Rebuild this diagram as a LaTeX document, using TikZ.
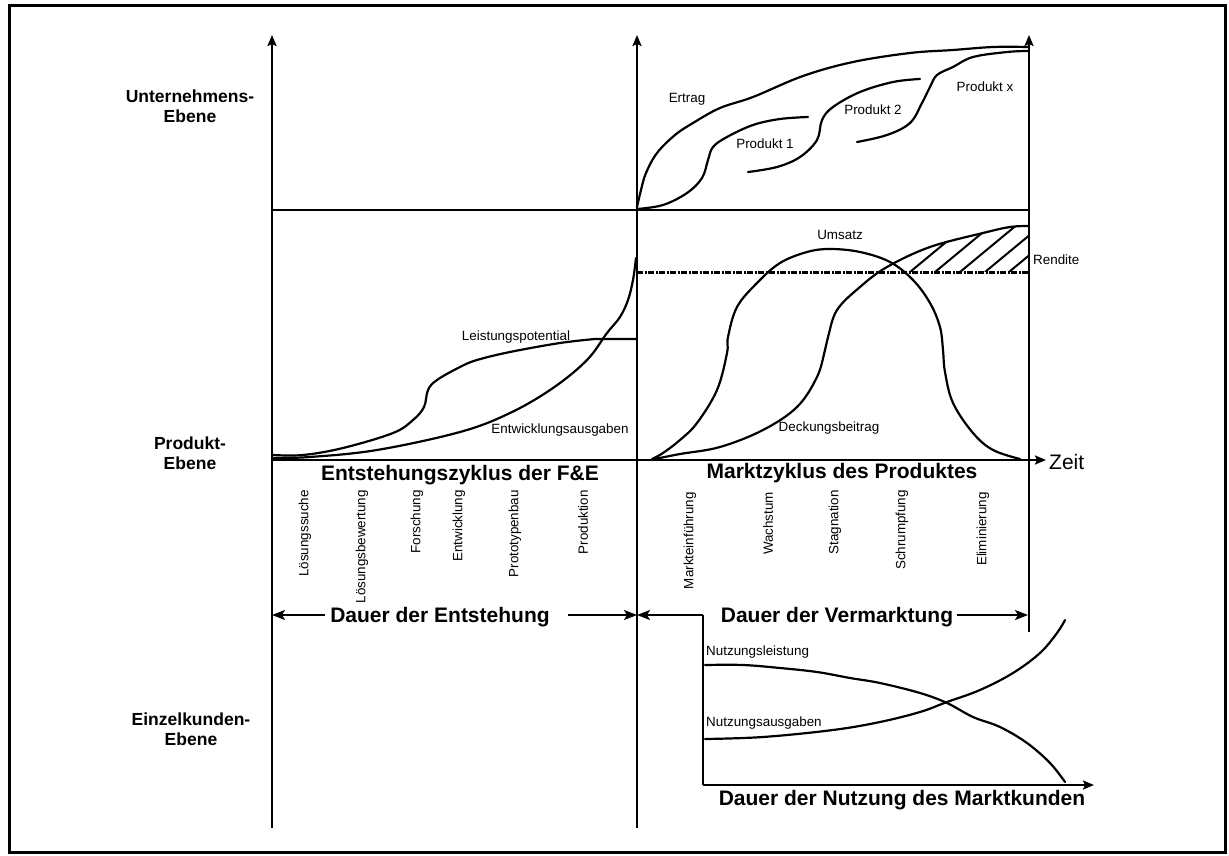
\documentclass[tikz,border=0pt]{standalone}
\usepackage{fontspec}
\setmainfont{Liberation Sans}
\usetikzlibrary{arrows.meta}

\tikzset{
  frame/.style={line width=3pt},
  axis/.style={line width=2.1pt},
  axisarrow/.style={line width=2.1pt, -{Stealth[length=11pt,width=9pt,inset=2pt]}},
  span/.style={line width=1.8pt, -{Stealth[length=13pt,width=10pt,inset=3pt]}},
  sep/.style={line width=1.8pt},
  curve/.style={line width=2.2pt, line join=round, line cap=round},
  limit/.style={line width=3pt, dash pattern=on 6pt off 1.5pt on 2pt off 1.5pt},
  hatch/.style={line width=2pt},
  lbl/.style={font=\fontsize{13.4}{16}\selectfont, inner sep=0pt},
  phase/.style={lbl, rotate=90, anchor=east},
  ttl/.style={font=\bfseries\fontsize{21}{25}\selectfont, inner sep=0pt},
  lvl/.style={font=\bfseries\fontsize{17.5}{20}\selectfont, align=center, inner sep=0pt},
}

\begin{document}
\begin{tikzpicture}[x=1pt,y=-1pt]
\useasboundingbox (0,0) rectangle (1229,856);
\draw[frame] (9.5,6) rectangle (1225.5,852);

% axes and level boundaries
\coordinate (lB) at (272,828);   \coordinate (lT) at (272,35);
\coordinate (mB) at (637,828);   \coordinate (mT) at (637,35);
\coordinate (rB) at (1029,632);  \coordinate (rT) at (1029,35);
\coordinate (sepL) at (272,210); \coordinate (sepR) at (1029,210);
\coordinate (tO) at (272,460);   \coordinate (tE) at (1046,460);
\coordinate (limL) at (637,272); \coordinate (limR) at (1029,272);
\coordinate (vL) at (703,615);   \coordinate (uO) at (703,785);
\coordinate (uE) at (1094,785);
\coordinate (eL) at (272,615);   \coordinate (eR) at (637,615);
\coordinate (vR) at (1028,615);

\draw[axisarrow] (lB) -- (lT);
\draw[axisarrow] (mB) -- (mT);
\draw[axisarrow] (rB) -- (rT);
\draw[sep] (sepL) -- (sepR);
\draw[axisarrow] (tO) -- (tE);
\draw[limit] (limL) -- (limR);

% level names
\node[lvl] (lu) at (190,106) {Unternehmens-\\Ebene};
\node[lvl] (lp) at (190,453) {Produkt-\\Ebene};
\node[lvl] (le) at (191,729) {Einzelkunden-\\Ebene};

% company level: yield and products
\draw[curve] plot[smooth, tension=0.6] coordinates {(637,207) (641,190) (646,173) (657,153) (675,135) (693,123) (720,108) (753,97) (803,76) (853,62) (910,53) (953,50) (993,47) (1028,47)};
\draw[curve] plot[smooth, tension=0.6] coordinates {(637,209) (663,205) (687,193) (702,178) (708,160) (713,147) (727,137) (753,125) (780,119) (808,117)};
\draw[curve] plot[smooth, tension=0.6] coordinates {(748,172) (777,167) (800,157) (817,140) (822,120) (833,107) (860,92) (893,82) (920,79)};
\draw[curve] plot[smooth, tension=0.6] coordinates {(857,142) (887,135) (910,123) (922,103) (930,87) (937,75) (953,67) (973,57) (1007,52) (1028,51)};
\node[lbl] (ertrag) at (687,99) {Ertrag};
\node[lbl] (p1) at (765,144) {Produkt 1};
\node[lbl] (p2) at (873,110) {Produkt 2};
\node[lbl] (px) at (985,87) {Produkt x};

% product level: development phase
\draw[curve] plot[smooth, tension=0.6] coordinates {(273,455) (303,455) (343,448) (393,433) (413,420) (424,407) (428,390) (437,380) (460,367) (477,360) (510,352) (560,343) (595,339)} -- (637,339);
\draw[curve] plot[smooth, tension=0.6] coordinates {(273,458) (310,457) (377,450) (460,432) (510,413) (553,388) (587,360) (607,333) (620,317) (628,300) (633,280) (636,258)};
\node[lbl] (leist) at (516,337) {Leistungspotential};
\node[lbl] (entw) at (560,430) {Entwicklungsausgaben};

% product level: market phase
\draw[curve] plot[smooth, tension=0.6] coordinates {(652,459) (663,453) (680,440) (697,423) (717,390) (727,353) (728,337) (737,307) (757,283) (780,263) (807,252) (830,249) (860,252) (890,262) (913,280) (930,303) (940,327) (943,350) (945,372) (953,403) (973,433) (993,450) (1020,459)};
\def\dbcurve{(655,459) (680,454) (720,447) (763,430) (797,407) (817,377) (825,350) (828,337) (837,310) (860,287) (887,267) (930,247) (983,233) (1010,227) (1029,226)}
\draw[curve] plot[smooth, tension=0.6] coordinates \dbcurve;
\begin{scope}
  \clip plot[smooth, tension=0.6] coordinates \dbcurve -- (1029,272) -- (880,272) -- cycle;
  \foreach \hx in {910,935,960,985,1009}
    \draw[hatch] (\hx,272) -- ++(70,-58);
\end{scope}
\node[lbl] (ums) at (840,235) {Umsatz};
\node[lbl] (db) at (829,428) {Deckungsbeitrag};
\node[lbl, anchor=west] (rend) at (1033,260) {Rendite};
\node[font=\fontsize{21}{25}\selectfont, anchor=west, inner sep=0pt] (zeit) at (1049,462) {Zeit};

% phase titles and steps
\node[ttl] (tfe) at (460,475) {Entstehungszyklus der F\&E};
\node[ttl] (tmk) at (842,473) {Marktzyklus des Produktes};
\node[phase] (s1) at (305,490) {Lösungssuche};
\node[phase] (s2) at (362,490) {Lösungsbewertung};
\node[phase] (s3) at (417,490) {Forschung};
\node[phase] (s4) at (459,490) {Entwicklung};
\node[phase] (s5) at (515,490) {Prototypenbau};
\node[phase] (s6) at (583,490) {Produktion};
\node[phase] (m1) at (690,492) {Markteinführung};
\node[phase] (m2) at (768,492) {Wachstum};
\node[phase] (m3) at (835,490) {Stagnation};
\node[phase] (m4) at (902,490) {Schrumpfung};
\node[phase] (m5) at (983,492) {Eliminierung};

% durations
\node[ttl] (dE) at (440,617) {Dauer der Entstehung};
\node[ttl] (dV) at (837,617) {Dauer der Vermarktung};
\draw[span] ([xshift=-5pt]dE.west |- eL) -- (eL);
\draw[span] ([xshift=18pt]dE.east |- eR) -- (eR);
\draw[span] (vL) -- (eR);
\draw[span] ([xshift=4pt]dV.east |- vR) -- (vR);

% single customer level
\draw[axis] (vL) -- (uO);
\draw[axisarrow] (uO) -- (uE);
\draw[curve] plot[smooth, tension=0.6] coordinates {(705,665) (743,665) (780,668) (817,672) (850,678) (880,683) (920,693) (947,703) (973,717) (1000,727) (1027,743) (1050,763) (1065,782)};
\draw[curve] plot[smooth, tension=0.6] coordinates {(705,739) (763,737) (833,730) (880,722) (920,712) (947,702) (980,690) (1013,673) (1040,653) (1057,633) (1065,620)};
\node[lbl, anchor=west] (nl) at (706,652) {Nutzungsleistung};
\node[lbl, anchor=west] (na) at (706,723) {Nutzungsausgaben};
\node[ttl] (dN) at (902,800) {Dauer der Nutzung des Marktkunden};
\end{tikzpicture}
\end{document}
